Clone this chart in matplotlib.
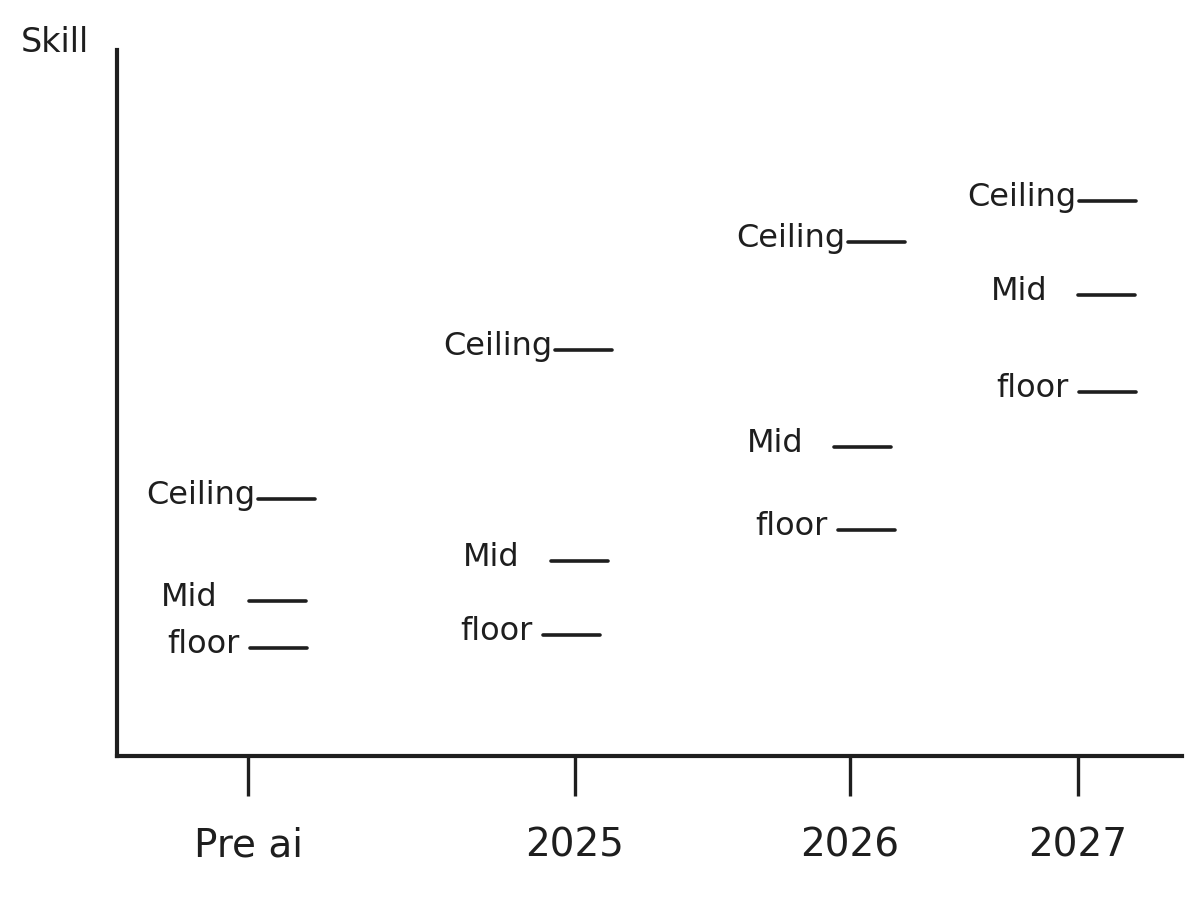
"""
Skill ceiling / mid / floor by period, hand-drawn style sketch.
"""

import matplotlib
matplotlib.use("Agg")
import matplotlib.pyplot as plt

# data
periods = ["Pre ai", "2025", "2026", "2027"]
levels = ["Ceiling", "Mid", "floor"]
ceiling = [2.57, 4.06, 5.14, 5.55]
mid = [1.55, 1.95, 3.09, 4.61]
floor = [1.08, 1.21, 2.26, 3.64]

# layout (axis units, 1 unit = 100 px)
x_pos = [1.31, 4.58, 7.33, 9.61]
line_start = {
    "Ceiling": [0.10, -0.20, -0.02, 0.01],
    "Mid": [0.01, -0.24, -0.16, 0.00],
    "floor": [0.02, -0.32, -0.12, 0.01],
}
label_gap = {"Ceiling": 0.03, "Mid": 0.31, "floor": 0.10}
line_len = 0.57
ink = "#1e1e1e"

fig = plt.figure(figsize=(12, 9.06), dpi=100)
ax = fig.add_axes([117 / 1200, 1 - 756 / 906, (1182 - 117) / 1200, (756 - 50) / 906])
ax.set_xlim(0, 10.65)
ax.set_ylim(0, 7.06)

for name in ["top", "right"]:
    ax.spines[name].set_visible(False)
for name in ["left", "bottom"]:
    ax.spines[name].set_linewidth(3.0)
    ax.spines[name].set_color(ink)

ax.set_yticks([])
ax.set_xticks(x_pos)
ax.set_xticklabels(periods, fontsize=28, color=ink)
ax.tick_params(axis="x", direction="out", length=29, width=2.4, color=ink, pad=22)

series = {"Ceiling": ceiling, "Mid": mid, "floor": floor}
for level in levels:
    values = series[level]
    for i, x in enumerate(x_pos):
        x0 = x + line_start[level][i]
        y = values[i]
        ax.plot([x0, x0 + line_len], [y, y], color=ink, lw=2.6,
                solid_capstyle="round", clip_on=False)
        ax.text(x0 - label_gap[level], y - 0.05, level, ha="right", va="baseline",
                fontsize=23, color=ink)

fig.text(55 / 1200, 1 - 42 / 906, "Skill", ha="center", va="center",
         fontsize=24, color=ink)

fig.savefig("out.png", dpi=100, facecolor="white")
